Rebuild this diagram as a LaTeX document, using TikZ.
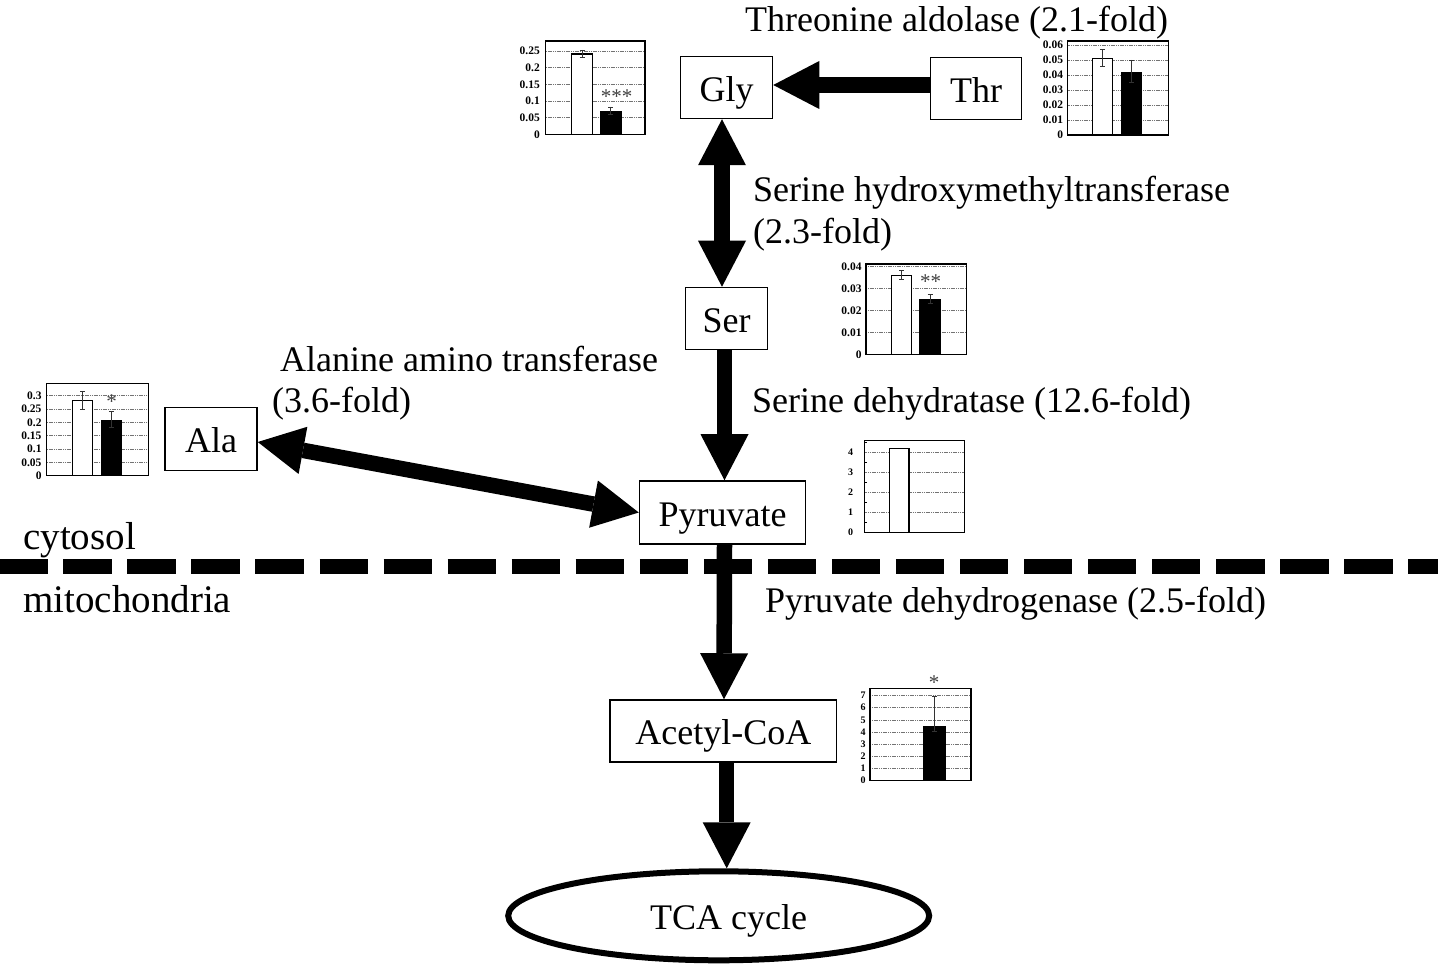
\documentclass[tikz,border=0pt]{standalone}
\usepackage{fontspec}
\setmainfont{Liberation Serif}
\usetikzlibrary{arrows.meta,shapes.geometric}

\tikzset{
  box/.style={draw, line width=1.5pt, inner sep=0pt, minimum height=62pt,
    text height=27.5pt, text depth=0pt, font=\fontsize{36}{40}\selectfont},
  tcaring/.style={draw, ellipse, line width=6pt, inner sep=0pt},
  tipA/.tip={Triangle[width=48pt,length=46pt,line width=0pt]},
  flow/.style={line width=15.5pt, -tipA},
  both/.style={line width=15.5pt, tipA-tipA},
  lbl/.style={anchor=base west, inner sep=0pt, font=\fontsize{36}{42}\selectfont},
  region/.style={anchor=base west, inner sep=0pt, font=\fontsize{39}{44}\selectfont},
  membrane/.style={line width=15pt, dash pattern=on 48.3pt off 15.75pt},
  grid/.style={draw=black!55, line width=0.6pt, dash pattern=on 1.2pt off 0.6pt},
  frame/.style={draw, line width=1.3pt},
  wbar/.style={draw, fill=white, line width=1.2pt},
  bbar/.style={draw, fill=black, line width=1.2pt},
  err/.style={line width=0.9pt, draw=black!80},
  tick/.style={anchor=east, inner sep=0pt, font=\bfseries\fontsize{11.5}{12}\selectfont},
  ticksm/.style={anchor=east, inner sep=0pt, font=\bfseries\fontsize{10}{11}\selectfont},
  star/.style={inner sep=0pt, text=black!75, font=\fontsize{21}{22}\selectfont},
}

% error bar with caps: x, low, high
\newcommand{\errbar}[3]{\draw[err] (#1-2.5,#3) -- (#1+2.5,#3) (#1,#3) -- (#1,#2) (#1-2.5,#2) -- (#1+2.5,#2);}

\begin{document}
\begin{tikzpicture}[x=1pt, y=-1pt]
\useasboundingbox (0,0) rectangle (1438,965);

% ---- metabolites ----
\node[box, minimum width=92pt] (gly) at (726.5,87.5) {Gly};
\node[box, minimum width=91pt] (thr) at (976,88.5) {Thr};
\node[box, minimum width=82pt] (ser) at (726.5,318.5) {Ser};
\node[box, minimum width=92pt, minimum height=63pt] (ala) at (211,439) {Ala};
\node[box, minimum width=166pt, minimum height=63pt] (pyr) at (722.5,512.5) {Pyruvate};
\node[box, minimum width=226.5pt, minimum height=62pt] (acoa) at (723.3,731) {Acetyl-CoA};
\node[tcaring, minimum width=421pt, minimum height=89pt,
      label={[xshift=10pt, text height=27pt, text depth=0pt, font=\fontsize{36}{40}\selectfont]center:TCA cycle}] (tca) at (718.7,915.8) {};

% ---- reactions ----
\draw[flow] ([yshift=3.5pt]thr.west) -- ([yshift=2.5pt]gly.east);
\draw[both] ([xshift=-4.5pt]gly.south) -- ([xshift=-4.5pt]ser.north);
\draw[flow] ([xshift=-2pt]ser.south) -- ([xshift=2pt]pyr.north);
\draw[both] ([yshift=-3pt]ala.east) -- (pyr.west);
\draw[flow] ([xshift=2pt]pyr.south) -- ([xshift=0.7pt]acoa.north);
\draw[flow] ([xshift=3.4pt]acoa.south) -- ([xshift=3.4pt]acoa.south |- tca.north);

% ---- membrane ----
\coordinate (mL) at (-0.75,566);
\coordinate (mR) at (1440,566);
\draw[membrane] (mL) -- (mR);
\node[region] (cyto) at (23,549) {cytosol};
\node[region] (mito) at (23,612) {mitochondria};

% ---- enzyme labels ----
\node[lbl] (e1) at (745,31.7) {Threonine aldolase (2.1-fold)};
\node[lbl] (e2a) at (753,201.7) {Serine hydroxymethyltransferase};
\node[lbl] (e2b) at (753,244) {(2.3-fold)};
\node[lbl] (e3) at (752,412.5) {Serine dehydratase (12.6-fold)};
\node[lbl] (e4a) at (280,372) {Alanine amino transferase};
\node[lbl] (e4b) at (272,413) {(3.6-fold)};
\node[lbl] (e5) at (765,612) {Pyruvate dehydrogenase (2.5-fold)};

% ---- chart: Gly ----
\begin{scope}[shift={(545.7,134.3)}, yscale=-333.3]
  \foreach \v in {0.05,0.1,0.15,0.2,0.25} \draw[grid] (0,\v) -- (99.3,\v);
  \draw[frame] (0,0) rectangle (99.3,0.28);
  \foreach \v/\t in {0/0,0.05/0.05,0.1/0.1,0.15/0.15,0.2/0.2,0.25/0.25}
    \node[tick] at (-5.7,\v) {\t};
  \draw[wbar] (26,0) rectangle (46.6,0.241);
  \errbar{36.3}{0.23}{0.253}
  \draw[bbar] (55,0) rectangle (75.3,0.069);
  \errbar{65.2}{0.06}{0.082}
  \node[star] at (71,0.113) {***};
\end{scope}

% ---- chart: Thr ----
\begin{scope}[shift={(1067.3,135)}, yscale=-1500]
  \foreach \v in {0.01,0.02,0.03,0.04,0.05,0.06} \draw[grid] (0,\v) -- (101,\v);
  \draw[frame] (0,0) rectangle (101,0.0627);
  \foreach \v/\t in {0/0,0.01/0.01,0.02/0.02,0.03/0.03,0.04/0.04,0.05/0.05,0.06/0.06}
    \node[tick] at (-4,\v) {\t};
  \draw[wbar] (25.4,0) rectangle (45.4,0.0511);
  \errbar{35.4}{0.0455}{0.0567}
  \draw[bbar] (54.4,0) rectangle (74.4,0.0415);
  \errbar{64.4}{0.035}{0.05}
\end{scope}

% ---- chart: Ser ----
\begin{scope}[shift={(866,354.3)}, yscale=-2200]
  \foreach \v in {0.01,0.02,0.03,0.04} \draw[grid] (0,\v) -- (100.7,\v);
  \draw[frame] (0,0) rectangle (100.7,0.041);
  \foreach \v/\t in {0/0,0.01/0.01,0.02/0.02,0.03/0.03,0.04/0.04}
    \node[tick] at (-4.3,\v) {\t};
  \draw[wbar] (25.7,0) rectangle (45.7,0.0357);
  \errbar{35.7}{0.0338}{0.0383}
  \draw[bbar] (54,0) rectangle (74,0.025);
  \errbar{64}{0.023}{0.027}
  \node[star] at (64.7,0.033) {**};
\end{scope}

% ---- chart: Ala ----
\begin{scope}[shift={(46.7,475.7)}, yscale=-266.7]
  \foreach \v in {0.05,0.1,0.15,0.2,0.25,0.3} \draw[grid] (0,\v) -- (101.6,\v);
  \draw[frame] (0,0) rectangle (101.6,0.346);
  \foreach \v/\t in {0/0,0.05/0.05,0.1/0.1,0.15/0.15,0.2/0.2,0.25/0.25,0.3/0.3}
    \node[tick] at (-5,\v) {\t};
  \draw[wbar] (26,0) rectangle (46,0.281);
  \errbar{36}{0.249}{0.315}
  \draw[bbar] (55,0) rectangle (74.3,0.206);
  \errbar{64.6}{0.18}{0.24}
  \node[star] at (65,0.277) {*};
\end{scope}

% ---- chart: Pyruvate ----
\begin{scope}[shift={(864.3,532.3)}, yscale=-20]
  \foreach \v in {1,2,3,4} \draw[grid] (0,\v) -- (100,\v);
  \foreach \v in {0.5,1.5,2.5,3.5,4.5} \draw[line width=0.6pt] (0,\v) -- (3,\v);
  \draw[frame] (0,0) rectangle (100,4.6);
  \foreach \v in {0,1,2,3,4} \node[ticksm] at (-11,\v) {\v};
  \draw[wbar] (25,0) rectangle (44.7,4.19);
\end{scope}

% ---- chart: Acetyl-CoA ----
\begin{scope}[shift={(870,780.3)}, yscale=-12.1]
  \foreach \v in {1,2,3,4,5,6,7} \draw[grid] (0,\v) -- (101,\v);
  \draw[frame] (0,0) rectangle (101,7.6);
  \foreach \v in {0,1,2,3,4,5,6,7} \node[ticksm] at (-4.3,\v) {\v};
  \draw[line width=1.2pt] (25.7,0) -- (45.9,0);
  \draw[bbar] (54,0) rectangle (75,4.43);
  \errbar{64.5}{4}{6.97}
  \node[star] at (64,8.1) {*};
\end{scope}
\end{tikzpicture}
\end{document}
